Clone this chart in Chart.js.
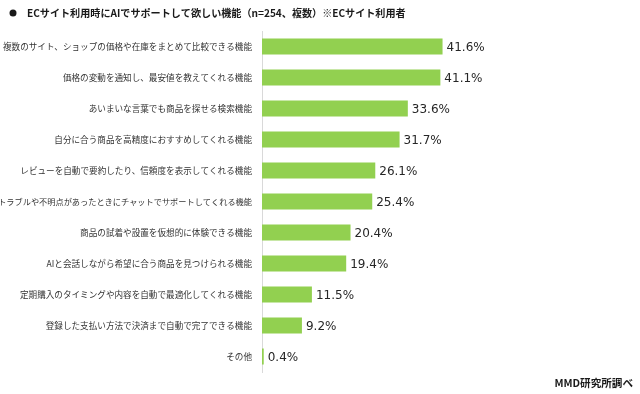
<!DOCTYPE html>
<html>
<head>
<meta charset="utf-8">
<script src="https://cdn.jsdelivr.net/npm/chart.js@4/dist/chart.umd.min.js"></script>
<style>
html,body{margin:0;padding:0;background:#fff;}
#wrap{position:relative;width:640px;height:394px;}
</style>
</head>
<body>
<div id="wrap"><canvas id="c" width="640" height="394"></canvas></div>
<script>
const titleText = "ECサイト利用時にAIでサポートして欲しい機能（n=254、複数）※ECサイト利用者";
const sourceText = "MMD研究所調べ";
const categories = [
  "複数のサイト、ショップの価格や在庫をまとめて比較できる機能",
  "価格の変動を通知し、最安値を教えてくれる機能",
  "あいまいな言葉でも商品を探せる検索機能",
  "自分に合う商品を高精度におすすめしてくれる機能",
  "レビューを自動で要約したり、信頼度を表示してくれる機能",
  "トラブルや不明点があったときにチャットでサポートしてくれる機能",
  "商品の試着や設置を仮想的に体験できる機能",
  "AIと会話しながら希望に合う商品を見つけられる機能",
  "定期購入のタイミングや内容を自動で最適化してくれる機能",
  "登録した支払い方法で決済まで自動で完了できる機能",
  "その他"
];
const values = [41.6, 41.1, 33.6, 31.7, 26.1, 25.4, 20.4, 19.4, 11.5, 9.2, 0.4];

const JP = '"Noto Sans CJK JP", "Noto Sans", sans-serif';

const decor = {
  id: 'decor',
  afterDraw(chart) {
    const ctx = chart.ctx;
    ctx.save();
    ctx.fillStyle = '#1a1a1a';
    ctx.beginPath();
    ctx.arc(13, 13, 3.5, 0, Math.PI * 2);
    ctx.fill();
    ctx.font = 'bold 10.1px ' + JP;
    ctx.textBaseline = 'middle';
    ctx.textAlign = 'left';
    ctx.fillText(titleText, 27, 13);
    ctx.font = 'bold 10.6px ' + JP;
    ctx.textAlign = 'right';
    ctx.fillText(sourceText, 633, 383);
    const meta = chart.getDatasetMeta(0);
    ctx.font = '12px "DejaVu Sans", sans-serif';
    ctx.fillStyle = '#262626';
    ctx.textAlign = 'left';
    meta.data.forEach((bar, i) => {
      ctx.fillText(values[i].toFixed(1) + '%', bar.x + 4, bar.y + 1);
    });
    ctx.restore();
  }
};

new Chart(document.getElementById('c'), {
  type: 'bar',
  data: {
    labels: categories,
    datasets: [{
      data: values,
      backgroundColor: '#92D050',
      borderWidth: 0,
      barPercentage: 0.52,
      categoryPercentage: 1.0
    }]
  },
  options: {
    indexAxis: 'y',
    responsive: false,
    animation: false,
    devicePixelRatio: 1,
    layout: { padding: { top: 31, bottom: 22, left: 0, right: 161 } },
    plugins: { legend: { display: false }, tooltip: { enabled: false }, title: { display: false } },
    scales: {
      x: { display: false, min: 0, max: 50 },
      y: {
        afterFit(scale) { scale.width = 262; },
        grid: { display: false },
        border: { display: true, color: '#d9d9d9', width: 1 },
        ticks: {
          font: (c) => ({ family: JP, size: (categories[c.index] || '').length >= 30 ? 8.2 : 8.6 }),
          color: '#333333', padding: 2, autoSkip: false
        }
      }
    }
  },
  plugins: [decor]
});
</script>
</body>
</html>
